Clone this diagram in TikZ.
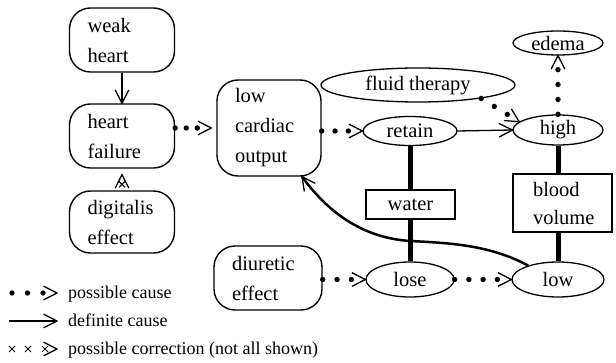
\documentclass[tikz,border=0pt]{standalone}
\usepackage{fontspec}
\newfontfamily\libserif{Liberation Serif}
\usetikzlibrary{calc,shapes.geometric}
\tikzset{
  bfont/.style={font=\libserif\fontsize{20.5}{30}\selectfont},
  rbox/.style={draw, line width=1.4pt, rounded corners=21pt, inner xsep=18pt, inner ysep=0pt, align=left, bfont},
  sbox/.style={draw, line width=1.2pt, inner sep=0pt, bfont},
  ell/.style={draw, ellipse, line width=1.3pt, inner sep=0pt, label={[font=\libserif\fontsize{20.5}{30}\selectfont, inner sep=0pt]center:#1}},
  vhead/.style={line width=1.3pt, line join=miter},
  defline/.style={line width=1.8pt},
  bar/.style={line width=5pt},
  legtext/.style={anchor=base west, font=\libserif\fontsize{18}{22}\selectfont, inner sep=0pt},
}
\newcommand{\Vhead}[2]{\draw[vhead] ($(#1)!15pt!27:(#2)$) -- (#1) -- ($(#1)!15pt!-27:(#2)$);}
\newcommand{\Poss}[3]{%
  \coordinate (pb) at ($(#2)!14pt!(#1)$);
  \foreach \k in {0,...,#3} { \fill ($(#1)!\k/#3!(pb)$) circle (2.7pt); }
  \Vhead{#2}{#1}}
\newcommand{\Xmark}[1]{\draw[line width=1pt] ($(#1)+(-3,-3)$) -- ($(#1)+(3,3)$) ($(#1)+(-3,3)$) -- ($(#1)+(3,-3)$);}
\begin{document}
\begin{tikzpicture}[x=1pt, y=-1pt]
\useasboundingbox (0,0) rectangle (616,363);
% rounded boxes
\node[rbox, text width=69pt, minimum height=64pt] (wh) at (122,40) {weak\\heart};
\node[rbox, text width=69pt, minimum height=64pt] (hf) at (122,136) {heart\\failure};
\node[rbox, text width=69pt, minimum height=62pt] (de) at (122,222) {digitalis\\effect};
\node[rbox, text width=68pt, minimum height=96pt] (lco) at (269,128) {low\\cardiac\\output};
\node[rbox, text width=72pt, minimum height=64pt] (diu) at (268,278) {diuretic\\effect};
% ellipses
\node[ell={fluid therapy}, minimum width=194pt, minimum height=34pt] (ft) at (418,85) {};
\node[ell={retain}, minimum width=94pt, minimum height=29pt] (ret) at (410,131) {};
\node[ell={high}, minimum width=90pt, minimum height=30pt] (high) at (558,130) {};
\node[ell={edema}, minimum width=90pt, minimum height=24pt] (ed) at (558,43) {};
\node[ell={lose}, minimum width=88pt, minimum height=35pt] (lose) at (410,279.5) {};
\node[ell={low}, minimum width=92pt, minimum height=35pt] (low) at (558,279.5) {};
% rectangles
\node[sbox, minimum width=89pt, minimum height=29pt] (wat) at (410.5,204.5) {water};
\node[sbox, font=\libserif\fontsize{20.5}{28}\selectfont, inner xsep=20pt, text width=59pt, minimum height=58pt, align=left] (bv) at (562.5,203) {blood\\volume};
% thick bars
\draw[bar] (ret.south) -- (ret.south |- wat.north);
\draw[bar] (lose.north |- wat.south) -- (lose.north);
\draw[bar] (high.south) -- (high.south |- bv.north);
\draw[bar] (high.south |- bv.south) -- (low.north);
% definite causes
\draw[defline] (wh.south) -- (hf.north); \Vhead{hf.north}{wh.south}
\draw[line width=1.3pt] (ret.east) -- (high.west); \Vhead{high.west}{ret.east}
\coordinate (lcoT) at ($(lco.south)+(33,0)$);
\coordinate (cc) at (330,215);
\draw[line width=2.5pt] (low.155) .. controls (490,245) and (450,243) .. (410,241) .. controls (365,238) and (cc) .. (lcoT);
\Vhead{lcoT}{cc}
% possible causes
\coordinate (hfS) at (hf.east |- lco.west);
\coordinate (lcoW) at ($(lco.west)+(-5,0)$);
\Poss{hfS}{lcoW}{2}
\coordinate (lcoS) at (lco.east |- ret.west);
\Poss{lcoS}{ret.west}{2}
\coordinate (diuS) at (diu.east |- lose.west);
\Poss{diuS}{lose.west}{2}
\Poss{lose.east}{low.west}{3}
\Poss{high.north}{ed.south}{3}
\Poss{ft.-12}{high.168}{2}
% possible correction
\coordinate (xtip) at ($(hf.south)+(0,6)$);
\Vhead{xtip}{de.north}
\coordinate (xm) at ($(xtip)!0.62!(de.north)$);
\Xmark{xm}
% legend
\coordinate (l1a) at (12,293); \coordinate (l1t) at (57,293);
\Poss{l1a}{l1t}{2}
\node[legtext] (t1) at (68,299) {possible cause};
\coordinate (l2a) at (9,321); \coordinate (l2t) at (57,321);
\draw[line width=2.4pt] (l2a) -- (l2t); \Vhead{l2t}{l2a}
\node[legtext] (t2) at (68,327) {definite cause};
\coordinate (l3a) at (12,349); \coordinate (l3b) at (28,349); \coordinate (l3t) at (57,349); \coordinate (l3x) at (45,349);
\Xmark{l3a} \Xmark{l3b} \Vhead{l3t}{l3a} \Xmark{l3x}
\node[legtext] (t3) at (68,355) {possible correction (not all shown)};
\end{tikzpicture}
\end{document}
